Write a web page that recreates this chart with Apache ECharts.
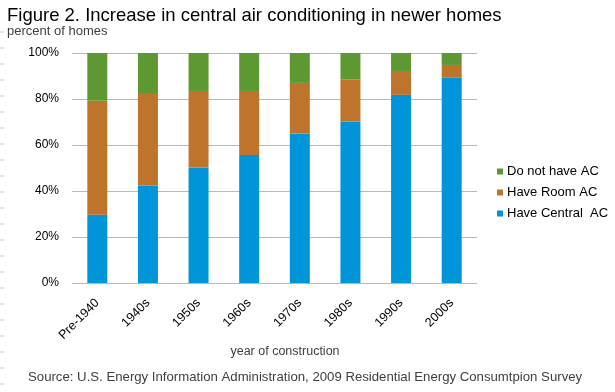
<!DOCTYPE html>
<html>
<head>
<meta charset="utf-8">
<script src="https://cdn.jsdelivr.net/npm/echarts@6/dist/echarts.min.js"></script>
<style>
html,body{margin:0;padding:0;background:#fff;}
#chart{width:615px;height:392px;}
</style>
</head>
<body>
<div id="chart"></div>
<script>
var categories = ['Pre-1940', '1940s', '1950s', '1960s', '1970s', '1980s', '1990s', '2000s'];
var centralAC = [29.7, 42.4, 50.2, 55.7, 65.0, 70.2, 81.8, 89.3];
var roomAC = [49.5, 40.2, 33.3, 27.8, 22.0, 18.2, 10.4, 5.5];
var noAC = [20.8, 17.4, 16.5, 16.5, 13.0, 11.6, 7.8, 5.2];
var yTicks = [0, 20, 40, 60, 80, 100];

var FONT = '"Liberation Sans", Arial, sans-serif';
var chart = echarts.init(document.getElementById('chart'), null, {renderer: 'canvas'});

var dashes = [];
for (var y = 32; y < 392; y += 16) {
  dashes.push({type: 'line', shape: {x1: 0, y1: y, x2: 4, y2: y}, style: {stroke: '#c8c8c8', lineWidth: 1}, silent: true});
}

chart.setOption({
  animation: false,
  backgroundColor: '#ffffff',
  title: [
    {text: 'Figure 2. Increase in central air conditioning in newer homes', left: 2, top: 1,
     textStyle: {fontFamily: FONT, fontSize: 18.5, fontWeight: 'normal', color: '#000'}},
    {text: 'percent of homes', left: 2, top: 20,
     textStyle: {fontFamily: FONT, fontSize: 13, fontWeight: 'normal', color: '#404040'}},
    {text: 'year of construction', left: 280, top: 340, textAlign: 'center',
     textStyle: {fontFamily: FONT, fontSize: 12.5, fontWeight: 'normal', color: '#404040'}},
    {text: 'Source: U.S. Energy Information Administration, 2009 Residential Energy Consumtpion Survey', left: 23, top: 366,
     textStyle: {fontFamily: FONT, fontSize: 13.2, fontWeight: 'normal', color: '#404040'}}
  ],
  graphic: dashes,
  legend: {
    orient: 'vertical', left: 492, top: 160,
    data: ['Do not have AC', 'Have Room AC', 'Have Central  AC'],
    icon: 'rect', itemWidth: 6, itemHeight: 6, itemGap: 8,
    textStyle: {fontFamily: FONT, fontSize: 13, color: '#000', padding: [0, 0, 0, -1]}
  },
  grid: {left: 72, right: 615 - 477, top: 53, bottom: 392 - 283, containLabel: false},
  xAxis: {
    type: 'category', data: categories,
    axisLine: {show: false}, axisTick: {show: false},
    axisLabel: {rotate: 45, margin: 18, fontFamily: FONT, fontSize: 12.5, color: '#000'}
  },
  yAxis: {
    type: 'value', min: 0, max: 100, interval: 20,
    axisLine: {show: false}, axisTick: {show: false},
    splitLine: {lineStyle: {color: '#b8b8b8', width: 1}},
    axisLabel: {formatter: function (v) { return yTicks.indexOf(v) >= 0 ? v + '%' : ''; },
      margin: 13, fontFamily: FONT, fontSize: 12, color: '#000'}
  },
  series: [
    {name: 'Have Central  AC', type: 'bar', stack: 'a', data: centralAC, barWidth: 20, itemStyle: {color: '#0095d8'}},
    {name: 'Have Room AC', type: 'bar', stack: 'a', data: roomAC, barWidth: 20, itemStyle: {color: '#bf742b'}},
    {name: 'Do not have AC', type: 'bar', stack: 'a', data: noAC, barWidth: 20, itemStyle: {color: '#5e9833'}}
  ]
});
</script>
</body>
</html>
